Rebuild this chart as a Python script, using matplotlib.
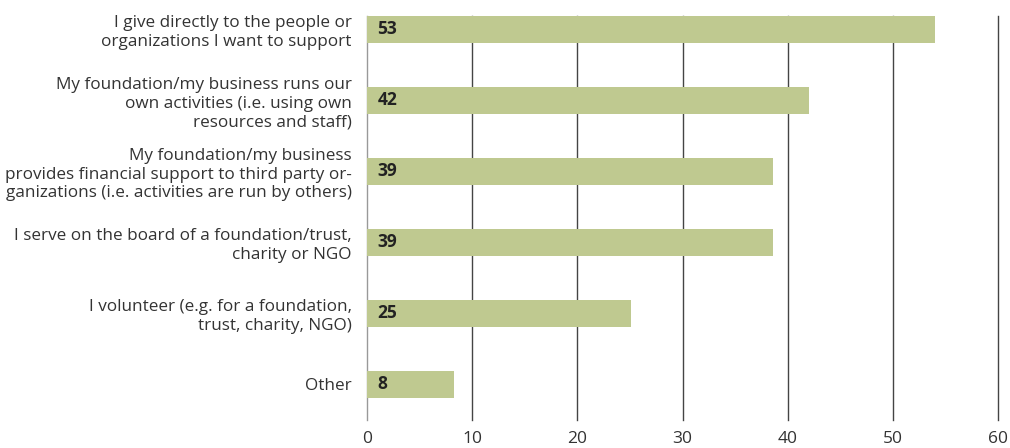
import numpy as np
import matplotlib.pyplot as plt

categorias = [
    "I give directly to the people or\norganizations I want to support",
    "My foundation/my business runs our\nown activities (i.e. using own\nresources and staff)",
    "My foundation/my business\nprovides financial support to third party or-\nganizations (i.e. activities are run by others)",
    "I serve on the board of a foundation/trust,\ncharity or NGO",
    "I volunteer (e.g. for a foundation,\ntrust, charity, NGO)",
    "Other",
]
valores = [54.0, 42.0, 38.6, 38.6, 25.1, 8.3]
etiquetas = ["53", "42", "39", "39", "25", "8"]
ticks_x = [0, 10, 20, 30, 40, 50, 60]

plt.rcParams['font.family'] = ['Open Sans', 'DejaVu Sans']
texto = '#333333'

fig = plt.figure(figsize=(10.1, 4.48), dpi=100)
ax = fig.add_axes([0.3634, 0.0625, 0.6248, 0.9018])

y = np.arange(len(categorias))
for t in ticks_x:
    ax.axvline(t, color='#999999' if t == 0 else '#444444', lw=1.0,
               zorder=1, clip_on=False)
ax.barh(y, valores, height=0.38, color='#bfc990', zorder=2)

for i, et in enumerate(etiquetas):
    ax.text(1.0, y[i], et, ha='left', va='center', fontsize=12.5,
            fontweight='bold', color='#222222', zorder=3)

ax.set_xlim(0, 60)
ax.set_ylim(5.5, -0.19)
ax.set_xticks(ticks_x)
ax.set_yticks(y)
ax.set_yticklabels(categorias, fontsize=12.3, color=texto, linespacing=1.2)
ax.tick_params(axis='both', length=0, colors=texto)
ax.tick_params(axis='y', pad=11)
ax.tick_params(axis='x', pad=8, labelsize=12.5)
for s in ax.spines.values():
    s.set_visible(False)

fig.savefig('out.png', dpi=100)
